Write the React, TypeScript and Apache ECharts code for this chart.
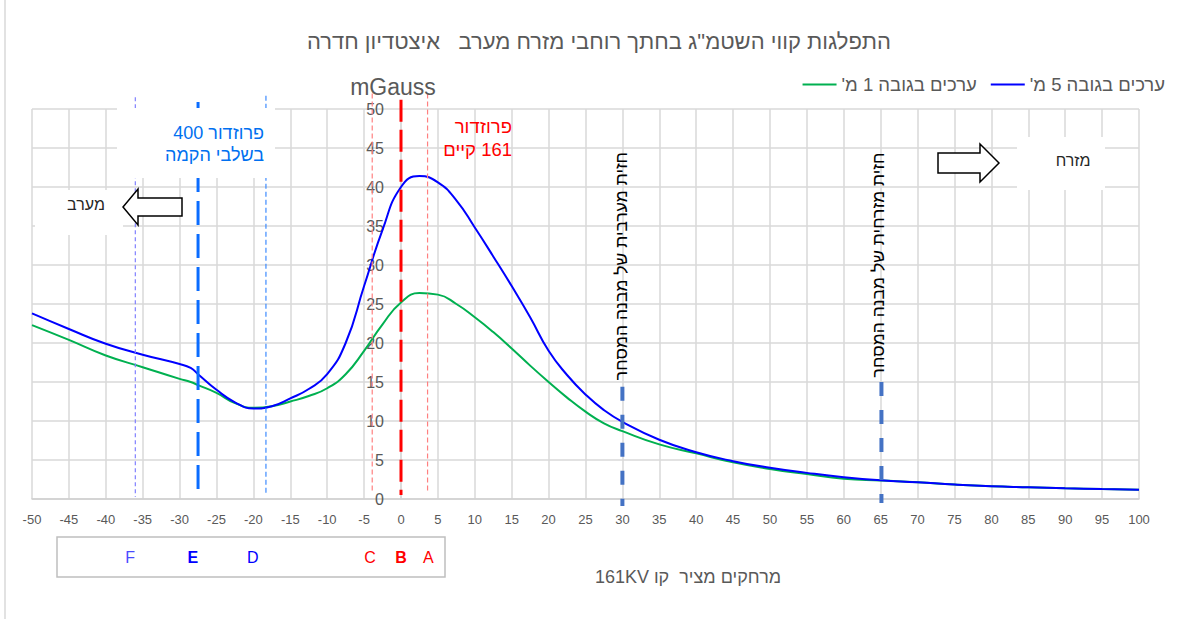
import React, { useEffect, useRef } from 'react';
import * as echarts from 'echarts';

const TITLE = 'התפלגות קווי השטמ"ג בחתך רוחבי מזרח מערב   איצטדיון חדרה';
const SERIES_5M = "ערכים בגובה 5 מ'";
const SERIES_1M = "ערכים בגובה 1 מ'";
const X_NAME = 'מרחקים מציר  קו 161KV';
const Y_NAME = 'mGauss';

const distances = [-50, -45, -40, -35, -30, -28.5, -27.5, -25, -22.5, -20, -17.5, -15, -12.5, -10, -7.5, -5, -2.5, 0, 2.5, 5, 7.5, 10, 12.5, 15, 17.5, 20, 22.5, 25, 27.5, 30, 35, 40, 45, 50, 55, 60, 65, 70, 75, 80, 85, 90, 95, 100];
const values5m = [23.8, 21.8, 19.9, 18.5, 17.3, 16.8, 16.0, 14.0, 12.4, 11.6, 11.9, 12.9, 14.1, 16.0, 20.0, 27.3, 34.5, 40.0, 41.4, 40.6, 38.3, 34.8, 31.1, 27.3, 23.3, 19.0, 15.9, 13.4, 11.4, 9.9, 7.6, 6.0, 4.85, 4.0, 3.35, 2.8, 2.4, 2.15, 1.85, 1.63, 1.5, 1.37, 1.29, 1.2];
const values1m = [22.3, 20.4, 18.4, 16.9, 15.4, 15.0, 14.6, 13.6, 12.3, 11.7, 11.9, 12.5, 13.2, 14.2, 16.0, 19.0, 22.4, 25.2, 26.4, 26.2, 25.0, 23.3, 21.4, 19.3, 17.1, 15.0, 13.0, 11.2, 9.7, 8.7, 7.0, 5.85, 4.7, 3.86, 3.2, 2.6, 2.36, 2.15, 1.85, 1.63, 1.5, 1.37, 1.29, 1.2];

// vertical reference lines: x position, top value, bottom value
const refLineX = [-36, -27.5, -18.3, -3.9, 0, 3.6, 30, 65.1];
const refLineTop = [51.5, 50.9, 51.7, 52.0, 51.2, 52.0, 14.4, 15.0];
const refLineBottom = [0.25, 0.5, 0.5, 0.9, 0.5, 0.9, -0.9, -0.5];

// corridor letters under the axis
const markerLetters = ['F', 'E', 'D', 'C', 'B', 'A'];
const markerX = [-36.7, -28.2, -20.1, -4.2, 0, 3.7];
const markerY = -7.44;

const refLineStyles = [
  { stroke: '#8080ff', lineWidth: 1.2, lineDash: [4, 3] },
  { stroke: '#0a6cff', lineWidth: 3, lineDash: [24, 9] },
  { stroke: '#3d8bff', lineWidth: 1.2, lineDash: [5, 3] },
  { stroke: '#ff8080', lineWidth: 1.2, lineDash: [5, 3] },
  { stroke: '#ff0000', lineWidth: 3, lineDash: [22, 8] },
  { stroke: '#ff8080', lineWidth: 1.2, lineDash: [5, 3] },
  { stroke: '#4472c4', lineWidth: 4, lineDash: [14, 14] },
  { stroke: '#4472c4', lineWidth: 4, lineDash: [14, 14] },
];
const markerStyles = [
  { fill: '#4a4aff', fontWeight: 'normal' },
  { fill: '#0000ff', fontWeight: 'bold' },
  { fill: '#0000ff', fontWeight: 'normal' },
  { fill: '#ff0000', fontWeight: 'normal' },
  { fill: '#ff0000', fontWeight: 'bold' },
  { fill: '#ff0000', fontWeight: 'normal' },
];

const RLE = '\u202B';
const PDF = '\u202C';
const rtl = (s: string) => RLE + s + PDF;
const FONT = '"Liberation Sans", Arial, sans-serif';

const GRID_LEFT = 32;
const GRID_RIGHT = 59;
const CHART_W = 1198;
const X_MIN = -50;
const X_MAX = 100;

function txt(x: number, y: number, text: string, fontSize: number, fill: string, align = 'center', extra: any = {}) {
  return {
    type: 'text',
    x,
    y,
    z: 20,
    ...extra,
    style: {
      text,
      fill,
      fontSize,
      fontFamily: FONT,
      fontWeight: extra.fontWeight || 'normal',
      align,
      verticalAlign: 'middle',
      textAlign: align,
      textVerticalAlign: 'middle',
    },
  };
}

export default function App() {
  const ref = useRef<HTMLDivElement>(null);
  useEffect(() => {
    document.body.style.margin = '0';
    const chart = echarts.init(ref.current!, null, { renderer: 'svg' });
    const plotW = CHART_W - GRID_LEFT - GRID_RIGHT;
    const yAxisOffset = -((0 - X_MIN) / (X_MAX - X_MIN)) * plotW;
    chart.setOption({
      animation: false,
      textStyle: { fontFamily: FONT },
      title: {
        text: rtl(TITLE),
        left: 'center',
        top: 25,
        textStyle: { fontSize: 22, fontWeight: 'normal', color: '#595959', fontFamily: FONT },
      },
      legend: {
        data: [SERIES_1M, SERIES_5M],
        right: 28,
        top: 70,
        icon: 'rect',
        itemWidth: 34,
        itemHeight: 2,
        itemGap: 14,
        formatter: (n: string) => rtl(n),
        textStyle: { fontSize: 18.5, color: '#595959', fontFamily: FONT },
      },
      grid: { left: GRID_LEFT, right: GRID_RIGHT, top: 109, bottom: 120, containLabel: false, outerBoundsMode: 'none' },
      xAxis: {
        type: 'value',
        min: X_MIN,
        max: X_MAX,
        interval: 5,
        axisLine: { show: true, lineStyle: { color: '#d0d0d0', width: 1.5 } },
        axisTick: { show: false },
        axisLabel: { fontSize: 13, color: '#595959', margin: 14 },
        splitLine: { show: true, lineStyle: { color: '#d9d9d9', width: 1.5 } },
      },
      yAxis: {
        type: 'value',
        min: 0,
        max: 50,
        interval: 5,
        offset: yAxisOffset,
        axisLine: { show: true, onZero: false, lineStyle: { color: '#d9d9d9', width: 1.5 } },
        axisTick: { show: false },
        axisLabel: { fontSize: 16, color: '#595959', margin: 17 },
        splitLine: { show: true, lineStyle: { color: '#d9d9d9', width: 1.5 } },
      },
      series: [
        {
          name: SERIES_1M,
          type: 'line',
          data: distances.map((x, i) => [x, values1m[i]]),
          smooth: 0.5,
          symbol: 'none',
          lineStyle: { color: '#00b050', width: 2 },
          itemStyle: { color: '#00b050' },
          z: 3,
        },
        {
          name: SERIES_5M,
          type: 'line',
          data: distances.map((x, i) => [x, values5m[i]]),
          smooth: 0.5,
          symbol: 'none',
          lineStyle: { color: '#0000ff', width: 2 },
          itemStyle: { color: '#0000ff' },
          z: 4,
        },
      ],
    });

    const P = (x: number, y: number) => chart.convertToPixel({ gridIndex: 0 }, [x, y]) as number[];

    const elements: any[] = [];
    elements.push({ type: 'line', z: 1, shape: { x1: 5, y1: 0, x2: 5, y2: 619 }, style: { stroke: '#d9d9d9', lineWidth: 1.5 } });

    refLineX.forEach((x, i) => {
      const a = P(x, refLineTop[i]);
      const b = P(x, refLineBottom[i]);
      elements.push({
        type: 'line',
        z: 6,
        shape: { x1: a[0], y1: a[1], x2: b[0], y2: b[1] },
        style: { ...refLineStyles[i], fill: 'none' },
      });
    });

    // white text boxes
    elements.push({ type: 'rect', z: 10, shape: { x: 117, y: 108, width: 158, height: 70 }, style: { fill: '#ffffff' } });
    elements.push({ type: 'rect', z: 10, shape: { x: 35, y: 190, width: 88, height: 45 }, style: { fill: '#ffffff' } });
    elements.push({ type: 'rect', z: 10, shape: { x: 1017, y: 137, width: 88, height: 53 }, style: { fill: '#ffffff' } });

    // arrows
    elements.push({
      type: 'polygon', z: 12,
      shape: { points: [[123, 207], [138, 189], [138, 198], [182, 198], [182, 216], [138, 216], [138, 225]] },
      style: { fill: '#ffffff', stroke: '#000000', lineWidth: 1.5 },
    });
    elements.push({
      type: 'polygon', z: 12,
      shape: { points: [[999, 163], [980, 144], [980, 153], [938, 153], [938, 173], [980, 173], [980, 182]] },
      style: { fill: '#ffffff', stroke: '#000000', lineWidth: 1.5 },
    });

    elements.push(txt(86, 204, rtl('מערב'), 16, '#262626'));
    elements.push(txt(1073, 160, rtl('מזרח'), 16, '#262626'));

    elements.push(txt(264, 133, rtl('פרוזדור 400'), 18, '#0070f0', 'right'));
    elements.push(txt(264, 155, rtl('בשלבי הקמה'), 18, '#0070f0', 'right'));
    elements.push(txt(512, 126, rtl('פרוזדור'), 18.5, '#ff0000', 'right'));
    elements.push(txt(512, 149, rtl('161 קיים'), 18.5, '#ff0000', 'right'));

    elements.push(txt(621, 266, rtl('חזית מערבית של מבנה המסחר'), 17.5, '#000000', 'center', { rotation: Math.PI / 2 }));
    elements.push(txt(878, 265, rtl('חזית מזרחית של מבנה המסחר'), 17.5, '#000000', 'center', { rotation: Math.PI / 2 }));

    elements.push(txt(393, 87, Y_NAME, 23, '#595959'));
    elements.push(txt(688, 577, rtl(X_NAME), 18, '#595959'));

    // letters box
    elements.push({ type: 'rect', z: 10, shape: { x: 57, y: 537, width: 388, height: 40 }, style: { fill: 'none', stroke: '#bfbfbf', lineWidth: 1.5 } });
    markerLetters.forEach((l, i) => {
      const p = P(markerX[i], markerY);
      elements.push(txt(p[0], p[1], l, 16, markerStyles[i].fill, 'center', { fontWeight: markerStyles[i].fontWeight }));
    });

    chart.setOption({ graphic: { elements } });
    return () => chart.dispose();
  }, []);
  return <div ref={ref} style={{ width: 1198, height: 619 }} />;
}
